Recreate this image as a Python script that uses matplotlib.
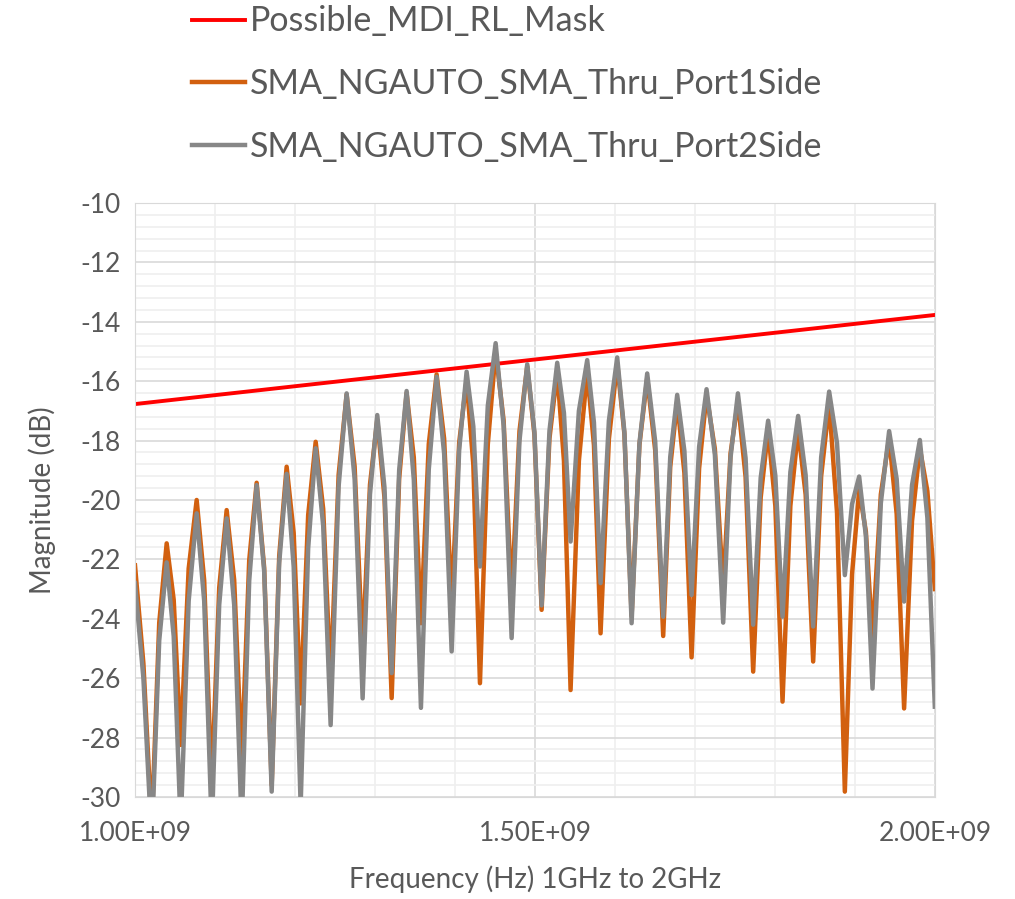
import matplotlib.pyplot as plt
from matplotlib.ticker import MultipleLocator, FuncFormatter
import numpy as np

plt.rcParams['font.family'] = ['Lato', 'DejaVu Sans']
plt.rcParams['axes.unicode_minus'] = False

# frequency points (peaks, dips and the shoulders between them), GHz
freq_ghz = np.array([
    1.0, 1.0105, 1.0209, 1.0303, 1.0396, 1.0484, 1.0571, 1.0671, 1.0771, 1.0865,
    1.0959, 1.1053, 1.1146, 1.124, 1.1334, 1.1428, 1.1521, 1.1615, 1.1709, 1.1803,
    1.1896, 1.1984, 1.2071, 1.2165, 1.2259, 1.2353, 1.2446, 1.2546, 1.2646, 1.2746,
    1.2846, 1.2938, 1.3029, 1.3119, 1.3209, 1.3303, 1.3396, 1.3486, 1.3575, 1.3673,
    1.3771, 1.3865, 1.3959, 1.4053, 1.4146, 1.423, 1.4313, 1.4411, 1.4509, 1.4609,
    1.4709, 1.4807, 1.4904, 1.4994, 1.5084, 1.5182, 1.5279, 1.5363, 1.5446, 1.555,
    1.5654, 1.5738, 1.5821, 1.5925, 1.6029, 1.6119, 1.6209, 1.6307, 1.6404, 1.6504,
    1.6604, 1.6692, 1.6779, 1.6869, 1.6959, 1.7053, 1.7146, 1.725, 1.7354, 1.7446,
    1.7538, 1.7634, 1.7729, 1.7823, 1.7916, 1.8006, 1.8096, 1.8194, 1.8291, 1.8385,
    1.8479, 1.8579, 1.8679, 1.8777, 1.8875, 1.8965, 1.9054, 1.9138, 1.9221, 1.9325,
    1.9429, 1.9523, 1.9616, 1.9715, 1.9813, 1.9907, 2.0])

port1 = [
    -22.2, -25.5, -31.0, -24.13, -21.46, -23.36, -28.25, -22.31, -20.0, -22.7,
    -29.65, -22.95, -20.34, -22.69, -28.75, -22.03, -19.42, -22.27, -29.6, -21.88,
    -18.88, -21.11, -26.85, -20.51, -18.04, -20.3, -26.1, -19.15, -16.45, -18.87,
    -25.1, -19.48, -17.3, -19.92, -26.67, -19.28, -16.4, -18.57, -24.15, -18.12,
    -15.77, -17.93, -23.5, -18.07, -15.96, -18.82, -26.17, -18.13, -15.0, -17.32,
    -23.3, -17.68, -15.5, -17.8, -23.7, -17.93, -15.68, -18.68, -26.4, -18.68,
    -15.68, -18.15, -24.49, -17.95, -15.4, -17.78, -23.9, -18.14, -15.9, -18.33,
    -24.58, -18.89, -16.68, -19.09, -25.3, -18.94, -16.46, -18.28, -22.97, -18.43,
    -16.67, -19.22, -25.78, -19.92, -17.64, -20.2, -26.79, -20.2, -17.64, -19.82,
    -25.44, -19.2, -16.77, -20.42, -29.82, -22.5, -19.66, -21.06, -24.66, -19.81,
    -17.92, -20.47, -27.02, -20.71, -18.26, -19.7, -23.0]

port2 = [
    -22.8, -26.0, -31.5, -24.73, -22.1, -24.59, -31.0, -23.4, -20.45, -23.4,
    -31.0, -23.53, -20.62, -23.53, -31.0, -22.72, -19.5, -22.39, -29.82, -22.12,
    -19.12, -22.25, -30.3, -21.63, -18.26, -20.87, -27.58, -19.54, -16.41, -19.29,
    -26.68, -19.81, -17.14, -19.57, -25.83, -18.99, -16.33, -19.32, -27.0, -18.97,
    -15.85, -18.44, -25.1, -18.32, -15.68, -17.52, -22.24, -16.83, -14.72, -17.5,
    -24.65, -18.01, -15.43, -17.7, -23.55, -17.67, -15.38, -17.07, -21.4, -17.0,
    -15.29, -17.39, -22.8, -17.33, -15.2, -17.71, -24.15, -18.09, -15.74, -18.03,
    -23.93, -18.55, -16.46, -18.35, -23.2, -18.21, -16.27, -18.47, -24.13, -18.57,
    -16.41, -18.59, -24.2, -19.25, -17.33, -19.18, -23.93, -19.06, -17.17, -19.16,
    -24.26, -18.56, -16.35, -18.08, -22.53, -20.14, -19.21, -21.21, -26.35, -20.11,
    -17.68, -19.29, -23.42, -19.5, -17.98, -20.6, -26.96]

mask_freq = [1.0e9, 2.0e9]
mask_db = [-16.77, -13.77]

freq = freq_ghz * 1e9
txt = '#595959'

fig = plt.figure(figsize=(10.15, 8.99), dpi=100)
ax = fig.add_axes([0.133, 0.1135, 0.788, 0.6607])

l1, = ax.plot(mask_freq, mask_db, color='#ff0000', lw=2.8, label='Possible_MDI_RL_Mask')
l2, = ax.plot(freq, port1, color='#d2600f', lw=3.2, solid_joinstyle='round',
              label='SMA_NGAUTO_SMA_Thru_Port1Side')
l3, = ax.plot(freq, port2, color='#878787', lw=3.2, solid_joinstyle='round',
              label='SMA_NGAUTO_SMA_Thru_Port2Side')

ax.set_xlim(1e9, 2e9)
ax.set_ylim(-30, -10)
ax.xaxis.set_major_locator(MultipleLocator(0.5e9))
ax.xaxis.set_minor_locator(MultipleLocator(0.1e9))
ax.yaxis.set_major_locator(MultipleLocator(2))
ax.yaxis.set_minor_locator(MultipleLocator(0.4))
ax.xaxis.set_major_formatter(FuncFormatter(lambda v, p: f'{v:.2E}'))
ax.grid(which='major', color='#d9d9d9', lw=1.2)
ax.grid(which='minor', color='#efefef', lw=1.2)
ax.set_axisbelow(True)
ax.tick_params(which='both', length=0, labelsize=19, colors=txt)
ax.tick_params(axis='x', pad=17)
ax.tick_params(axis='y', pad=10)
for s in ax.spines.values():
    s.set_color('#d9d9d9')

ax.set_xlabel('Frequency (Hz) 1GHz to 2GHz', fontsize=20, color=txt, labelpad=14)
ax.set_ylabel('Magnitude (dB)', fontsize=20, color=txt, labelpad=18)

fig.legend(handles=[l1, l2, l3], loc='upper left', bbox_to_anchor=(0.159, 1.028),
           frameon=False, fontsize=24.5, labelcolor=txt, handlelength=1.56,
           handletextpad=0.15, labelspacing=0.9)

fig.savefig('out.png', dpi=100)
